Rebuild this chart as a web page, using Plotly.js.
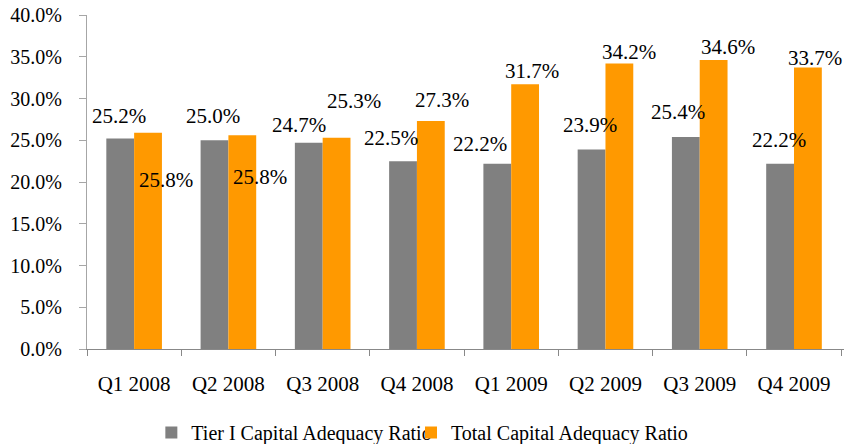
<!DOCTYPE html>
<html>
<head>
<meta charset="utf-8">
<script src="https://cdn.plot.ly/plotly-3.0.1.min.js"></script>
<style>
#chart text { font-family: 'Liberation Serif', 'Times New Roman', serif !important; }
</style>
</head>
<body style="margin:0">
<div id="chart" style="width:845px;height:444px"></div>
<script>
// ---- data ----
const categories = ["Q1 2008","Q2 2008","Q3 2008","Q4 2008","Q1 2009","Q2 2009","Q3 2009","Q4 2009"];
const tierValues = [25.2, 25.0, 24.7, 22.5, 22.2, 23.9, 25.4, 22.2];
const totalValues = [25.9, 25.6, 25.3, 27.3, 31.7, 34.2, 34.6, 33.7];
const tierLabels = ["25.2%","25.0%","24.7%","22.5%","22.2%","23.9%","25.4%","22.2%"];
const totalLabels = ["25.8%","25.8%","25.3%","27.3%","31.7%","34.2%","34.6%","33.7%"];
const seriesNames = ["Tier I Capital Adequacy Ratio","Total Capital Adequacy Ratio"];
const yTicks = [0,5,10,15,20,25,30,35,40];
const yTickText = ["0.0%","5.0%","10.0%","15.0%","20.0%","25.0%","30.0%","35.0%","40.0%"];

// ---- label placement (pixel offsets from group centre / bar top) ----
const tierDx = [-15, -15, -24, -26, -31, -15, -22, -15];
const tierDy = [23, 24, 18, 23, 20, 24, 25, 24];
const totalDx = [32, 32, 31, 25, 21, 24, 28, 21];
const totalDy = [-47, -42, 37, 21, 13, 11, 13, 10];

const SERIF = "Liberation Serif";

const ann = [];
categories.forEach((c,i)=>{
  ann.push({x:c, y:tierValues[i], xref:"x", yref:"y", text:tierLabels[i], showarrow:false,
    xshift:tierDx[i], yshift:tierDy[i], xanchor:"center", yanchor:"middle",
    font:{family:SERIF, size:21, color:"#000"}});
  ann.push({x:c, y:totalValues[i], xref:"x", yref:"y", text:totalLabels[i], showarrow:false,
    xshift:totalDx[i], yshift:totalDy[i], xanchor:"center", yanchor:"middle",
    font:{family:SERIF, size:21, color:"#000"}});
});

Plotly.newPlot("chart", [
  {type:"bar", name:seriesNames[0], x:categories, y:tierValues, marker:{color:"#808080"}, hoverinfo:"none", legend:"legend"},
  {type:"bar", name:seriesNames[1], x:categories, y:totalValues, marker:{color:"#FF9900"}, hoverinfo:"none", legend:"legend2"}
], {
  width:845, height:444,
  margin:{l:87, r:1, t:15, b:95, autoexpand:false},
  paper_bgcolor:"#fff", plot_bgcolor:"#fff",
  font:{family:SERIF, size:20, color:"#000"},
  barmode:"group", bargap:0.41, bargroupgap:0,
  showlegend:true,
  legend:{orientation:"h", x:0.085, xanchor:"left", y:-0.25, yanchor:"middle",
    font:{family:SERIF, size:20, color:"#000"}, bgcolor:"rgba(0,0,0,0)"},
  legend2:{orientation:"h", x:0.428, xanchor:"left", y:-0.25, yanchor:"middle",
    font:{family:SERIF, size:20, color:"#000"}, bgcolor:"rgba(0,0,0,0)"},
  xaxis:{type:"category", showline:true, linecolor:"#888", linewidth:1,
    ticks:"outside", tickson:"boundaries", ticklen:6, tickcolor:"#888",
    tickfont:{family:SERIF, size:21, color:"#000"}, showgrid:false, zeroline:false,
    ticklabelstandoff:16},
  yaxis:{range:[0,40], tickvals:yTicks, ticktext:yTickText, showline:true, linecolor:"#A6A6A6",
    linewidth:1, ticks:"outside", ticklen:7, tickcolor:"#A6A6A6", showgrid:false, zeroline:false,
    tickfont:{family:SERIF, size:20, color:"#000"}, ticklabelstandoff:13},
  annotations:ann
}, {staticPlot:true});
</script>
</body>
</html>
